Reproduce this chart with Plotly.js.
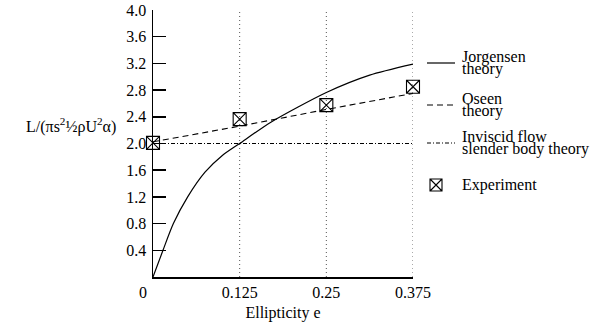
<!DOCTYPE html>
<html><head><meta charset="utf-8">
<script src="https://cdn.plot.ly/plotly-3.0.1.min.js"></script>
<style>html,body{margin:0;padding:0;background:#fff}#c{width:602px;height:331px}</style>
</head><body><div id="c"></div>
<script>
// Data
const jorgE = [0, 0.0144, 0.0294, 0.05, 0.075, 0.1, 0.125, 0.17, 0.25, 0.3125, 0.375];
const jorgL = [0, 0.4, 0.8, 1.2, 1.57, 1.82, 2.0, 2.32, 2.765, 3.025, 3.19];
const oseenE = [0, 0.125, 0.25, 0.375];
const oseenL = [2.025, 2.26, 2.51, 2.75];
const invE = [0, 0.375];
const invL = [2.0, 2.0];
const expE = [0, 0.125, 0.25, 0.375];
const expL = [2.01, 2.365, 2.575, 2.85];
const xTicks = [0, 0.125, 0.25, 0.375];
const xTickText = ['0\u00a0\u00a0\u00a0\u00a0\u00a0', '0.125', '0.25', '0.375'];
const gridE = [0.125, 0.25, 0.375];
const yTicks = [0.4, 0.8, 1.2, 1.6, 2.0, 2.4, 2.8, 3.2, 3.6, 4.0];
const yTickText = ['0.4','0.8','1.2','1.6','2.0','2.4','2.8','3.2','3.6','4.0'];
const legendItems = [
  {lines: ['Jorgensen', 'theory'], dash: 'solid', py: 63},
  {lines: ['Oseen', 'theory'], dash: '6px,4px', py: 105},
  {lines: ['Inviscid flow', 'slender body theory'], dash: '4px,2px,1px,2px', py: 143},
  {lines: ['Experiment'], marker: true, py: 185}
];

const W = 602, H = 331;
const M = {l: 153, r: 189, t: 10, b: 54};
const pw = W - M.l - M.r, ph = H - M.t - M.b;
const fx = px => (px - M.l) / pw;
const fy = py => (H - M.b - py) / ph;
const FONT = 'Liberation Serif, serif';

const traces = [
  {x: jorgE, y: jorgL, mode: 'lines', line: {color: '#000', width: 1.2, shape: 'spline', smoothing: 0.7}, hoverinfo: 'skip'},
  {x: oseenE, y: oseenL, mode: 'lines', line: {color: '#000', width: 1.1, dash: '6px,4px'}, hoverinfo: 'skip'},
  {x: invE, y: invL, mode: 'lines', line: {color: '#000', width: 1, dash: '4px,2px,1px,2px'}, hoverinfo: 'skip'},
  {x: expE, y: expL, mode: 'markers', cliponaxis: false,
   marker: {symbol: 'square-x-open', size: 13, color: '#000', line: {color: '#000', width: 1.1}}, hoverinfo: 'skip'}
];

const shapes = gridE.map(e => ({type: 'line', xref: 'x', yref: 'paper', x0: e, x1: e, y0: 0, y1: 1, layer: 'below',
  line: {color: '#555', width: 1, dash: '1px,3px'}}));
const annotations = [];
legendItems.forEach(it => {
  if (it.marker) {
    shapes.push({type: 'path', xref: 'paper', yref: 'paper', xsizemode: 'pixel', ysizemode: 'pixel',
      xanchor: fx(436), yanchor: fy(it.py),
      path: 'M-6,-6 L6,-6 L6,6 L-6,6 Z M-6,-6 L6,6 M-6,6 L6,-6',
      line: {color: '#000', width: 1.1}});
  } else {
    shapes.push({type: 'line', xref: 'paper', yref: 'paper', x0: fx(427), x1: fx(455), y0: fy(it.py), y1: fy(it.py),
      line: {color: '#000', width: it.dash === 'solid' ? 1.2 : 1, dash: it.dash}});
  }
  const n = it.lines.length;
  it.lines.forEach((t, i) => {
    const py = it.py + (i - (n - 1) / 2) * 12.5;
    annotations.push({text: t, xref: 'paper', yref: 'paper', x: fx(460), y: fy(py), xanchor: 'left', yanchor: 'middle',
      showarrow: false, font: {family: FONT, size: 16, color: '#000'}});
  });
});
annotations.push({text: 'L/(πs<sup>2</sup>½ρU<sup>2</sup>α)', xref: 'paper', yref: 'paper', x: fx(118), y: fy(126),
  xanchor: 'right', yanchor: 'middle', showarrow: false, font: {family: FONT, size: 16, color: '#000'}});

const layout = {
  width: W, height: H, margin: M, paper_bgcolor: '#fff', plot_bgcolor: '#fff', showlegend: false,
  font: {family: FONT, size: 16, color: '#000'},
  xaxis: {range: [0, 0.375], tickvals: xTicks, ticktext: xTickText, ticks: '', showline: true, linecolor: '#000', linewidth: 1.5,
    showgrid: false, zeroline: false, tickfont: {family: FONT, size: 16, color: '#000'},
    title: {text: 'Ellipticity e', standoff: 7, font: {family: FONT, size: 16, color: '#000'}}, fixedrange: true},
  yaxis: {range: [0, 4], tickvals: yTicks, ticktext: yTickText, ticks: 'inside', ticklen: 13, tickwidth: 1.5, tickcolor: '#000',
    tickfont: {family: FONT, size: 16, color: '#000'},
    showline: true, linecolor: '#000', linewidth: 1.5, showgrid: false, zeroline: false, ticklabelstandoff: 2, fixedrange: true},
  shapes: shapes, annotations: annotations
};
Plotly.newPlot('c', traces, layout, {staticPlot: true});
</script></body></html>
